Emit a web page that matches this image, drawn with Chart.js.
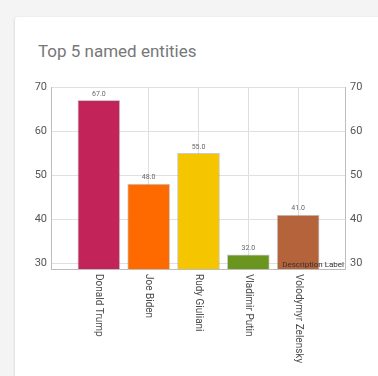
<!DOCTYPE html>
<html>
<head>
<meta charset="utf-8">
<script src="https://cdn.jsdelivr.net/npm/chart.js@4"></script>
<style>
  html, body { margin: 0; padding: 0; width: 378px; height: 376px; overflow: hidden; background: #f4f4f4; font-family: Roboto, sans-serif; }
  .card { position: absolute; left: 15px; top: 17px; width: 420px; height: 420px; background: #fff;
          border-radius: 3px; box-shadow: 0 1px 3px rgba(0,0,0,0.18); }
  .title { position: absolute; left: 38px; top: 41px; font-size: 17px; color: #777; margin: 0; font-weight: 400; }
  #wrap { position: absolute; left: 0; top: 0; width: 378px; height: 376px; }
</style>
</head>
<body>
<div class="card"></div>
<h3 class="title">Top 5 named entities</h3>
<div id="wrap"><canvas id="myChart" width="378" height="376"></canvas></div>
<script>
// chart data
const entities = ['Donald Trump', 'Joe Biden', 'Rudy Giuliani', 'Vladimir Putin', 'Volodymyr Zelensky'];
const mentions = [67, 48, 55, 32, 41];
const barColors = ['#c2245a', '#ff6a00', '#f5c500', '#6a961f', '#b5633a'];
const yTicks = [30, 40, 50, 60, 70];
const descriptionText = 'Description Label';

const ctx = document.getElementById('myChart').getContext('2d');

// draws the small value labels, the rotated names and the description
const labelPlugin = {
    id: 'labelPlugin',
    afterDatasetsDraw(chart) {
        const c = chart.ctx;
        const xs = chart.scales.x;
        const ys = chart.scales.y;
        const area = chart.chartArea;
        c.save();
        // values over bars
        c.font = '7px Roboto';
        c.fillStyle = '#666';
        c.textAlign = 'center';
        c.textBaseline = 'bottom';
        mentions.forEach((v, i) => {
            c.fillText(v.toFixed(1), xs.getPixelForValue(i), ys.getPixelForValue(v) - 3);
        });
        // names under the axis, turned clockwise
        c.font = '10px Roboto';
        c.fillStyle = '#4a4a4a';
        c.textAlign = 'left';
        c.textBaseline = 'middle';
        entities.forEach((name, i) => {
            c.save();
            c.translate(xs.getPixelForValue(i), area.bottom + 5);
            c.rotate(Math.PI / 2);
            c.fillText(name, 0, 0);
            c.restore();
        });
        // description label
        c.font = '8px Roboto';
        c.fillStyle = '#333';
        c.textAlign = 'right';
        c.textBaseline = 'alphabetic';
        c.fillText(descriptionText, area.right - 1, area.bottom - 2);
        c.restore();
    }
};

const yTickOptions = {
    color: '#555',
    font: { size: 11, family: 'Roboto' },
    stepSize: 10,
    includeBounds: false,
    callback: v => yTicks.includes(v) ? String(v) : ''
};

new Chart(ctx, {
    type: 'bar',
    data: {
        datasets: [{
            data: mentions.map((v, i) => ({ x: i, y: v })),
            backgroundColor: barColors,
            borderColor: 'rgba(140,140,140,0.45)',
            borderWidth: 1,
            barThickness: 42,
            yAxisID: 'y'
        }]
    },
    options: {
        responsive: false,
        animation: false,
        layout: { padding: { top: 87, left: 0, right: 0, bottom: 0 } },
        plugins: { legend: { display: false }, tooltip: { enabled: false } },
        scales: {
            x: {
                type: 'linear',
                offset: false,
                min: -0.96,
                max: 4.94,
                ticks: { stepSize: 1, display: false },
                grid: { color: '#dedede', drawTicks: false, offset: false },
                border: { color: '#bdbdbd' },
                afterFit: s => { s.height = 107; }
            },
            y: {
                position: 'left',
                min: 28.8,
                max: 70,
                ticks: Object.assign({ padding: 4 }, yTickOptions),
                grid: { color: '#e0e0e0', drawTicks: false },
                border: { color: '#bdbdbd' },
                afterFit: s => { s.width = 51; }
            },
            y2: {
                position: 'right',
                min: 28.8,
                max: 70,
                ticks: Object.assign({ padding: 5 }, yTickOptions),
                grid: { display: false, drawTicks: false },
                border: { color: '#bdbdbd' },
                afterFit: s => { s.width = 33; }
            }
        }
    },
    plugins: [labelPlugin]
});
</script>
</body>
</html>
